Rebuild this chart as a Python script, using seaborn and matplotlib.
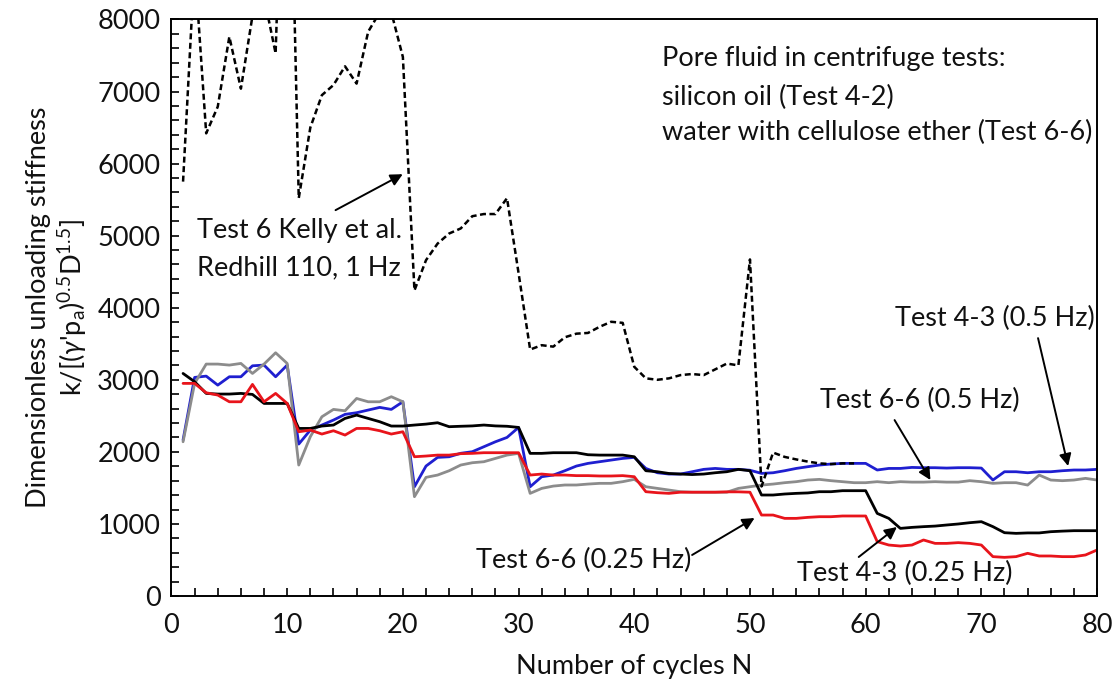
import numpy as np
import pandas as pd
import matplotlib
matplotlib.use("Agg")
import matplotlib.pyplot as plt
import seaborn as sns

# ---------------- data ----------------
cycles = list(range(1, 81))

test43_05hz = [2164, 3033, 3051, 2926, 3042, 3042, 3194, 3204, 3042, 3204,
               2108, 2302, 2372, 2441, 2520, 2543, 2580, 2617, 2589, 2695,
               1516, 1803, 1923, 1932, 1980, 2002, 2071, 2140, 2200, 2339,
               1516, 1655, 1678, 1738, 1803, 1840, 1863, 1886, 1909, 1923,
               1770, 1710, 1692, 1692, 1724, 1757, 1770, 1757, 1757, 1745,
               1701, 1710, 1738, 1770, 1794, 1817, 1831, 1840, 1840, 1840,
               1748, 1770, 1770, 1784, 1780, 1780, 1775, 1780, 1780, 1775,
               1609, 1724, 1724, 1710, 1724, 1724, 1738, 1748, 1748, 1757]

test66_05hz = [2140, 2950, 3218, 3218, 3204, 3227, 3088, 3218, 3375, 3227,
               1817, 2210, 2487, 2589, 2570, 2741, 2695, 2695, 2765, 2695,
               1378, 1646, 1678, 1738, 1817, 1849, 1863, 1909, 1955, 1979,
               1424, 1493, 1525, 1540, 1540, 1553, 1563, 1563, 1586, 1618,
               1516, 1493, 1470, 1447, 1440, 1440, 1440, 1440, 1493, 1516,
               1539, 1553, 1572, 1586, 1609, 1618, 1600, 1586, 1572, 1572,
               1586, 1572, 1586, 1580, 1580, 1586, 1580, 1580, 1600, 1586,
               1563, 1572, 1572, 1539, 1678, 1609, 1600, 1609, 1632, 1609]

test43_025hz = [3088, 2973, 2811, 2802, 2802, 2811, 2797, 2672, 2672, 2672,
                2325, 2325, 2358, 2372, 2464, 2510, 2464, 2418, 2358, 2358,
                2372, 2385, 2404, 2349, 2355, 2360, 2372, 2360, 2355, 2339,
                1979, 1979, 1988, 1988, 1988, 1960, 1955, 1955, 1955, 1932,
                1738, 1724, 1700, 1692, 1685, 1692, 1710, 1724, 1757, 1738,
                1401, 1401, 1415, 1424, 1430, 1447, 1447, 1461, 1461, 1461,
                1146, 1077, 938, 952, 962, 970, 985, 999, 1017, 1031,
                962, 878, 869, 875, 875, 892, 900, 906, 906, 906]

test66_025hz = [2950, 2950, 2820, 2788, 2695, 2695, 2936, 2695, 2811, 2672,
                2279, 2302, 2247, 2293, 2233, 2325, 2325, 2293, 2247, 2279,
                1932, 1942, 1955, 1955, 1975, 1979, 1988, 1988, 1988, 1988,
                1678, 1692, 1678, 1678, 1670, 1670, 1665, 1665, 1670, 1655,
                1447, 1433, 1424, 1440, 1440, 1440, 1440, 1445, 1445, 1440,
                1123, 1123, 1077, 1077, 1091, 1100, 1100, 1110, 1110, 1110,
                754, 707, 693, 707, 777, 730, 730, 740, 730, 707,
                546, 536, 546, 592, 555, 555, 546, 546, 569, 638]

kelly_cycles = list(range(1, 60))
kelly_test6 = [5750, 8770, 6420, 6790, 7760, 7040, 8050, 8310, 7530, 12500,
               5520, 6500, 6950, 7090, 7350, 7110, 7830, 8100, 8100, 7480,
               4240, 4660, 4890, 5030, 5100, 5270, 5300, 5300, 5520, 4480,
               3420, 3480, 3460, 3590, 3640, 3650, 3735, 3805, 3790, 3180,
               3020, 3000, 3020, 3065, 3080, 3065, 3145, 3225, 3200, 4670,
               1520, 1990, 1930, 1895, 1865, 1840, 1830, 1840, 1840]

x_ticks = [0, 10, 20, 30, 40, 50, 60, 70, 80]
y_ticks = [0, 1000, 2000, 3000, 4000, 5000, 6000, 7000, 8000]

# ---------------- style ----------------
sns.set_theme(style="ticks")
plt.rcParams['font.family'] = ['Lato', 'DejaVu Sans']
plt.rcParams['mathtext.fontset'] = 'custom'
plt.rcParams['mathtext.rm'] = 'Lato'
plt.rcParams['mathtext.it'] = 'Lato:italic'
FS = 19.5

fig = plt.figure(figsize=(11.15, 6.93), dpi=100)
ax = fig.add_axes([0.1538, 0.140, 0.8301, 0.8319])

series = [
    (test43_05hz, "#1f1fd0"),
    (test66_05hz, "#8c8c8c"),
    (test43_025hz, "#000000"),
    (test66_025hz, "#e8141b"),
]
for vals, col in series:
    df = pd.DataFrame({"N": cycles, "k": vals})
    sns.lineplot(data=df, x="N", y="k", ax=ax, color=col, linewidth=2.0,
                 estimator=None, errorbar=None)

dfk = pd.DataFrame({"N": kelly_cycles, "k": kelly_test6})
sns.lineplot(data=dfk, x="N", y="k", ax=ax, color="black", linewidth=1.8,
             estimator=None, errorbar=None, dashes=False)
ax.lines[-1].set_dashes([2.4, 1.4])

ax.set_xlim(0, 80)
ax.set_ylim(0, 8000)
ax.set_xticks(x_ticks)
ax.set_yticks(y_ticks)
ax.set_xticks(np.arange(0, 81, 2), minor=True)
ax.set_yticks(np.arange(0, 8001, 200), minor=True)
ax.tick_params(axis='both', which='both', direction='in', length=6, width=1.2,
               color='black', labelsize=FS, labelcolor='#111111')
ax.tick_params(axis='x', pad=12)
ax.tick_params(axis='y', pad=8)
for s in ax.spines.values():
    s.set_visible(True)
    s.set_color('black')
    s.set_linewidth(1.4)

ax.set_xlabel("Number of cycles N", fontsize=FS, color='#111111', labelpad=12)
ax.set_ylabel("Dimensionless unloading stiffness\n"
              r"k/[($\gamma$'p$_{\mathrm{a}}$)$^{0.5}$D$^{1.5}$]",
              fontsize=FS, color='#111111', labelpad=6, linespacing=1.2)

# ---------------- annotations ----------------
tc = '#111111'
ax.text(42.4, 7462, "Pore fluid in centrifuge tests:", fontsize=FS, color=tc, va='center', ha='left')
ax.text(42.4, 6921, "silicon oil (Test 4-2)", fontsize=FS, color=tc, va='center', ha='left')
ax.text(42.4, 6436, "water with cellulose ether (Test 6-6)", fontsize=FS, color=tc, va='center', ha='left')

ax.text(2.2, 5076, "Test 6 Kelly et al.", fontsize=FS, color=tc, va='center', ha='left')
ax.text(2.2, 4549, "Redhill 110, 1 Hz", fontsize=FS, color=tc, va='center', ha='left')

arrow = dict(arrowstyle='-|>', color='black', lw=1.4, mutation_scale=18,
             shrinkA=0, shrinkB=0)
ax.annotate("", xy=(19.99, 5853), xytext=(14.18, 5354), arrowprops=arrow)

ax.text(71.2, 3856, "Test 4-3 (0.5 Hz)", fontsize=FS, color=tc, va='center', ha='center')
ax.annotate("", xy=(77.5, 1803), xytext=(74.9, 3578), arrowprops=arrow)

ax.text(64.7, 2718, "Test 6-6 (0.5 Hz)", fontsize=FS, color=tc, va='center', ha='center')
ax.annotate("", xy=(65.6, 1609), xytext=(62.5, 2441), arrowprops=arrow)

ax.text(35.6, 499, "Test 6-6 (0.25 Hz)", fontsize=FS, color=tc, va='center', ha='center')
ax.annotate("", xy=(50.4, 1082), xytext=(45.0, 569), arrowprops=arrow)

ax.text(63.4, 319, "Test 4-3 (0.25 Hz)", fontsize=FS, color=tc, va='center', ha='center')
ax.annotate("", xy=(62.7, 957), xytext=(59.4, 541), arrowprops=arrow)

fig.savefig("out.png", dpi=100, facecolor='white')
